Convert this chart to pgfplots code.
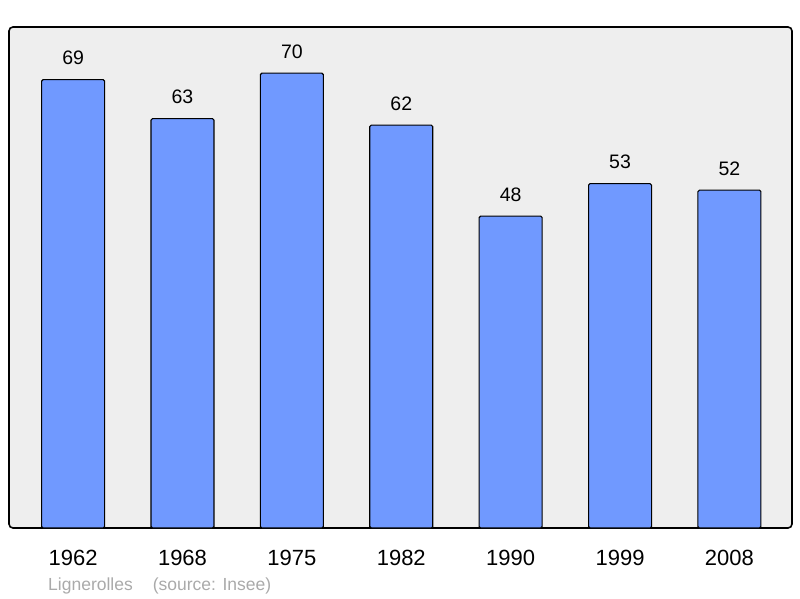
\documentclass[border=0pt]{standalone}
\usepackage{fontspec}
\setmainfont{Liberation Sans}
\usepackage{pgfplots}
\pgfplotsset{compat=1.18}
\definecolor{barblue}{HTML}{7099FF}
\definecolor{bggray}{HTML}{EEEEEE}
\definecolor{footgray}{HTML}{AAAAAA}
\begin{document}
\begin{tikzpicture}[x=1pt,y=1pt]
  \path[use as bounding box] (-9,-70) rectangle (791,528);
  \begin{axis}[
    at={(0,0)}, anchor=south west,
    scale only axis, width=783pt, height=501pt,
    xmin=-0.586, xmax=6.572, ymin=0, ymax=77.1,
    axis background/.style={fill=bggray, draw=black, line width=1.6pt, rounded corners=4pt},
    axis line style={draw=none},
    ytick=\empty,
    xtick=data, xticklabels={1962,1968,1975,1982,1990,1999,2008},
    major tick length=0pt,
    xticklabel style={font=\fontsize{22}{25}\selectfont, anchor=base, yshift=-37pt},
    ybar, bar width=63pt,
    /pgf/number format/assume math mode=true,
    nodes near coords,
    nodes near coords style={font=\fontsize{19.5}{22}\selectfont, anchor=base, yshift=15pt},
    clip=false,
  ]
    \addplot[fill=barblue, draw=black, line width=1.1pt, rounded corners=1.5pt] coordinates {
      (0,69) (1,63) (2,70) (3,62) (4,48) (5,53) (6,52)};
  \end{axis}
  \node[anchor=base west, text=footgray, font=\fontsize{17.5}{20}\selectfont, inner sep=0pt] at (39,-62) {Lignerolles\hspace{20pt}(source: Insee)};
\end{tikzpicture}
\end{document}
